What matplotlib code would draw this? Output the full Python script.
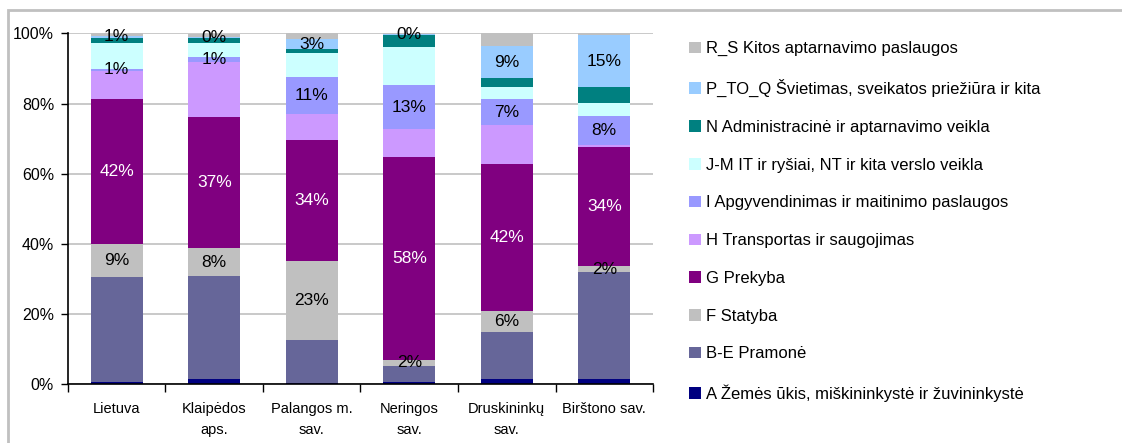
import matplotlib
matplotlib.use('Agg')
import matplotlib.pyplot as plt
import numpy as np
from matplotlib.patches import Rectangle

plt.rcParams['font.family'] = ['Liberation Sans', 'DejaVu Sans']

# data: shares (%) by municipality
places = ['Lietuva', 'Klaipėdos\naps.', 'Palangos m.\nsav.', 'Neringos\nsav.',
          'Druskininkų\nsav.', 'Birštono sav.']

sectors = ['A Žemės ūkis, miškininkystė ir žuvininkystė',
           'B-E Pramonė',
           'F Statyba',
           'G Prekyba',
           'H Transportas ir saugojimas',
           'I Apgyvendinimas ir maitinimo paslaugos',
           'J-M IT ir ryšiai, NT ir kita verslo veikla',
           'N Administracinė ir aptarnavimo veikla',
           'P_TO_Q Švietimas, sveikatos priežiūra ir kita',
           'R_S Kitos aptarnavimo paslaugos']

a_agri   = [0.6, 1.4, 0.2, 0.6, 1.4, 1.4]
b_ind    = [30.0, 29.4, 12.4, 4.5, 13.4, 30.6]
f_const  = [9.2, 8.0, 22.6, 1.8, 6.0, 1.6]
g_trade  = [41.6, 37.4, 34.5, 57.8, 42.0, 33.9]
h_trans  = [7.8, 15.7, 7.4, 8.0, 11.1, 0.6]
i_accom  = [0.8, 1.4, 10.6, 12.6, 7.4, 8.3]
jm_it    = [7.2, 4.0, 6.8, 10.9, 3.4, 3.7]
n_admin  = [1.6, 1.4, 1.2, 3.5, 2.6, 4.6]
pq_edu   = [0.6, 0.4, 2.6, 0.2, 9.1, 14.8]
rs_other = [0.8, 0.8, 1.8, 0.1, 3.6, 0.9]

colors = ['#000080', '#666699', '#C0C0C0', '#800080', '#CC99FF',
          '#9999FF', '#CCFFFF', '#008080', '#99CCFF', '#C0C0C0']

series = [a_agri, b_ind, f_const, g_trade, h_trans, i_accom, jm_it,
          n_admin, pq_edu, rs_other]
# which series get value labels, and label colour
labelled = {2: 'black', 3: 'white', 5: 'black', 8: 'black'}

fig = plt.figure(figsize=(11.22, 4.43), dpi=100)
ax = fig.add_axes([0.0606, 0.1332, 0.5214, 0.7912])

x = np.arange(len(places))
bottom = np.zeros(len(places))
handles = []
for k, vals in enumerate(series):
    vals = np.array(vals)
    bars = ax.bar(x, vals, 0.53, bottom=bottom, color=colors[k],
                  label=sectors[k], zorder=3, linewidth=0)
    handles.append(bars)
    if k in labelled:
        for xi, v, b in zip(x, vals, bottom):
            ax.text(xi, b + v / 2, '%d%%' % round(v), ha='center', va='center',
                    fontsize=12.5, color=labelled[k], zorder=4)
    bottom += vals

ax.set_xlim(-0.5, len(places) - 0.5)
ax.set_ylim(0, 100)
ax.set_yticks([0, 20, 40, 60, 80, 100])
ax.set_yticklabels(['0%', '20%', '40%', '60%', '80%', '100%'], fontsize=11.5)
ax.yaxis.grid(True, color='#C0C0C0', linewidth=1.2, zorder=0)
ax.set_xticks(x)
ax.set_xticklabels(places, fontsize=10.5, linespacing=1.6)
ax.tick_params(axis='x', length=0, pad=13)
ax.set_xticks(np.arange(-0.5, len(places)), minor=True)
ax.tick_params(axis='x', which='minor', length=6, width=1, color='black')
ax.tick_params(axis='y', length=5, width=1, pad=5)
for s in ['top', 'right']:
    ax.spines[s].set_visible(False)
for s in ['left', 'bottom']:
    ax.spines[s].set_linewidth(1.2)
    ax.spines[s].set_zorder(5)

leg = fig.legend(handles[::-1], sectors[::-1], loc='upper left',
                 bbox_to_anchor=(0.614, 0.907), frameon=False, fontsize=12,
                 handlelength=0.7, handleheight=0.7, handletextpad=0.35,
                 labelspacing=1.365, borderaxespad=0, borderpad=0)

# outer chart frame (partly cut off in the original)
fig.patches.append(Rectangle((8 / 1122, -0.1), 1.1, 1 - 10 / 443 + 0.1,
                             transform=fig.transFigure, fill=False,
                             edgecolor='#C0C0C0', linewidth=2))

fig.savefig('out.png', dpi=100)
